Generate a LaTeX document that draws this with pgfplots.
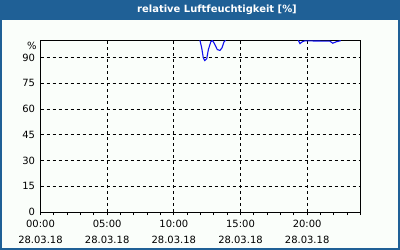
\documentclass[border=0pt]{standalone}
\usepackage{fontspec}
\setmainfont{DejaVu Sans}
\usepackage{pgfplots}
\pgfplotsset{compat=1.18}
\definecolor{barblue}{HTML}{1F6096}
\definecolor{bg}{HTML}{FAFEFA}
\definecolor{lineblue}{HTML}{1010F0}
\begin{document}
\begin{tikzpicture}[x=1bp,y=1bp]
\fill[barblue] (0,0) rectangle (400,250);
\fill[bg] (2,2) rectangle (398,230);
\node[text=white,font=\bfseries\fontsize{10}{12}\selectfont] at (217,240.5) {relative Luftfeuchtigkeit [\%]};
\begin{axis}[
  at={(40.5bp,38bp)}, anchor=south west,
  scale only axis, width=320bp, height=171.5bp,
  xmin=0, xmax=24, ymin=0, ymax=100,
  axis line style={black, line width=1bp},
  xtick={0,5,10,15,20},
  xticklabels={{00:00\\28.03.18},{05:00\\28.03.18},{10:00\\28.03.18},{15:00\\28.03.18},{20:00\\28.03.18}},
  xticklabel style={align=center, font=\fontsize{10}{16}\selectfont, yshift=-2bp},
  minor xtick={1,2,3,4,6,7,8,9,11,12,13,14,16,17,18,19,21,22,23,24},
  ytick={0,15,30,45,60,75,90},
  yticklabels={0,15,30,45,60,75,90},
  yticklabel style={font=\fontsize{10}{12}\selectfont, xshift=1bp},
  xtick pos=bottom, ytick pos=left,
  tick align=outside,
  major tick length=3bp, minor tick length=3bp,
  xtick style={black, line width=0.8bp},
  ytick style={draw=none},
  xmajorgrids, ymajorgrids,
  major grid style={black, line width=0.8bp, dash pattern=on 3bp off 3bp},
  clip mode=individual,
]
\addplot[lineblue, line width=1.1bp] coordinates {
(11.90,102) (11.96,100) (12.09,95.7) (12.21,89.9) (12.32,88.3) (12.47,89.5) (12.59,94.7)
(12.77,99.2) (12.89,100) (13.01,98.6) (13.26,94.7) (13.46,94.2) (13.61,95.7) (13.76,99.2) (13.86,100) (13.92,102)
};
\addplot[lineblue, line width=1.1bp] coordinates {
(19.30,101) (19.34,100) (19.46,98.2) (19.66,99.4) (19.84,99.8) (21.71,99.6) (21.92,98.4) (22.16,99.2) (22.52,99.9)
};
\node[anchor=east, font=\fontsize{10}{12}\selectfont, inner sep=2bp] at (rel axis cs:-0.005,0.97) {\%};
\end{axis}
\end{tikzpicture}
\end{document}
